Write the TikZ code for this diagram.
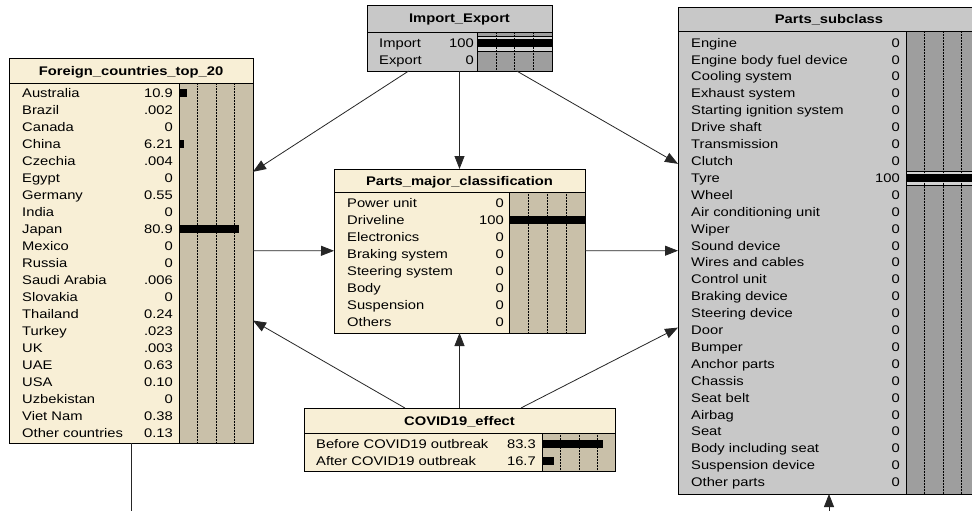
\documentclass[tikz,border=0pt]{standalone}
\usepackage{fontspec}
\setmainfont{Liberation Sans}[FakeStretch=1.18]
\usetikzlibrary{arrows.meta,calc}
\definecolor{cream}{HTML}{F8EFD6}
\definecolor{tanbar}{HTML}{C9C0A9}
\definecolor{lgray}{HTML}{C8C8C8}
\definecolor{dgray}{HTML}{9E9E9E}
\definecolor{hgray}{HTML}{D4D4D4}
\begin{document}
\begin{tikzpicture}[x=1pt,y=-1pt,
  box/.style={draw=black, line width=0.9pt, inner sep=0pt, outer sep=0pt, anchor=north west},
  edge/.style={line width=0.9pt, draw=black},
  lab/.style={anchor=base west, inner sep=0pt, font=\fontsize{12.5}{14}\selectfont},
  val/.style={anchor=base east, inner sep=0pt, font=\fontsize{12.5}{14}\selectfont},
  ttl/.style={anchor=base, inner sep=0pt, font=\fontsize{12.5}{14}\selectfont\bfseries},
  gridline/.style={densely dotted, line width=0.5pt},
  link/.style={draw=black!85, line width=0.8pt},
  arr/.style={link, -{Triangle[length=13pt,width=10pt]}}
]
\useasboundingbox (0,0) rectangle (972,511);
\clip (0,0) rectangle (972,511);
\fill[white] (0,0) rectangle (972,511);

%---------------- Foreign_countries_top_20
\node[box, fill=cream, minimum width=244pt, minimum height=385pt] (foreign) at (9,58) {};
\draw[edge, fill=tanbar] (179,83) rectangle (253,443);
\foreach \x in {197.5,216,234.5} \draw[gridline] (\x,83) -- (\x,443);
\draw[edge] (9,83) -- (253,83);
\node[ttl] (foreignT) at (131,75) {Foreign\_countries\_top\_20};
\foreach \lab/\val [count=\i from 0] in {Australia/10.9, Brazil/.002, Canada/0, China/6.21, Czechia/.004, Egypt/0, Germany/0.55, India/0, Japan/80.9, Mexico/0, Russia/0, Saudi Arabia/.006, Slovakia/0, Thailand/0.24, Turkey/.023, UK/.003, UAE/0.63, USA/0.10, Uzbekistan/0, Viet Nam/0.38, Other countries/0.13}{
  \node[lab] (fl\i) at (22,97.5+17*\i) {\lab};
  \node[val] (fv\i) at (173,97.5+17*\i) {\val};
}
\fill (179,89) rectangle (187.1,97);
\fill (179,140) rectangle (183.6,148);
\fill (179,225) rectangle (238.9,233);
\draw[edge] (foreign.north west) rectangle (foreign.south east);

%---------------- Import_Export
\node[box, fill=lgray, minimum width=185pt, minimum height=66pt] (imp) at (367,5) {};
\draw[edge, fill=dgray] (477,32) rectangle (552,71);
\draw[line width=0.5pt, fill=hgray] (477,36) rectangle (552,51);
\foreach \x in {496,514.5,533} \draw[gridline] (\x,32) -- (\x,71);
\fill (477,39.5) rectangle (552,47.5);
\draw[edge] (367,32) -- (552,32);
\node[ttl] (impT) at (459.5,23) {Import\_Export};
\node[lab] (il0) at (379,48) {Import};
\node[val] (iv0) at (474,48) {100};
\node[lab] (il1) at (379,65) {Export};
\node[val] (iv1) at (474,65) {0};
\draw[edge] (imp.north west) rectangle (imp.south east);

%---------------- Parts_major_classification
\node[box, fill=cream, minimum width=251pt, minimum height=164pt] (major) at (334,169) {};
\draw[edge, fill=tanbar] (509,192) rectangle (585,333);
\foreach \x in {528,547,566} \draw[gridline] (\x,192) -- (\x,333);
\draw[edge] (334,192) -- (585,192);
\node[ttl] (majorT) at (459.5,185) {Parts\_major\_classification};
\foreach \lab/\val [count=\i from 0] in {Power unit/0, Driveline/100, Electronics/0, Braking system/0, Steering system/0, Body/0, Suspension/0, Others/0}{
  \node[lab] (ml\i) at (347,207.5+17*\i) {\lab};
  \node[val] (mv\i) at (504,207.5+17*\i) {\val};
}
\fill (509,216) rectangle (585,224);
\draw[edge] (major.north west) rectangle (major.south east);

%---------------- COVID19_effect
\node[box, fill=cream, minimum width=311pt, minimum height=63pt] (covid) at (304,408) {};
\draw[edge, fill=tanbar] (542,433) rectangle (615,471);
\foreach \x in {560,579,597.5} \draw[gridline] (\x,433) -- (\x,471);
\draw[edge] (304,433) -- (615,433);
\node[ttl] (covidT) at (459.5,425) {COVID19\_effect};
\node[lab] (cl0) at (316,448) {Before COVID19 outbreak};
\node[val] (cv0) at (536,448) {83.3};
\node[lab] (cl1) at (316,465) {After COVID19 outbreak};
\node[val] (cv1) at (536,465) {16.7};
\fill (542,439.5) rectangle (603,447.5);
\fill (542,456.5) rectangle (554.2,464.5);
\draw[edge] (covid.north west) rectangle (covid.south east);

%---------------- Parts_subclass
\node[box, fill=lgray, minimum width=302pt, minimum height=487pt] (sub) at (678,7) {};
\draw[edge, fill=dgray] (906,31) rectangle (980,494);
\draw[line width=0.5pt, fill=hgray] (906,171) rectangle (980,185);
\foreach \x in {924.5,943,961.5} \draw[gridline] (\x,31) -- (\x,494);
\fill (906,174) rectangle (980,182);
\draw[edge] (678,31) -- (980,31);
\node[ttl] (subT) at (829,23.5) {Parts\_subclass};
\foreach \lab/\val [count=\i from 0] in {Engine/0, Engine body fuel device/0, Cooling system/0, Exhaust system/0, Starting ignition system/0, Drive shaft/0, Transmission/0, Clutch/0, Tyre/100, Wheel/0, Air conditioning unit/0, Wiper/0, Sound device/0, Wires and cables/0, Control unit/0, Braking device/0, Steering device/0, Door/0, Bumper/0, Anchor parts/0, Chassis/0, Seat belt/0, Airbag/0, Seat/0, Body including seat/0, Suspension device/0, Other parts/0}{
  \node[lab] (sl\i) at (691,47.2+16.9*\i) {\lab};
  \node[val] (sv\i) at (900,47.2+16.9*\i) {\val};
}
\draw[edge] (sub.north west) rectangle (sub.south east);

%---------------- connectors
\coordinate (belowF) at (131,620);
\coordinate (belowS) at (829,620);
\draw[arr] (imp) -- (foreign);
\draw[arr] (imp) -- (major);
\draw[arr] (imp) -- (sub);
\draw[arr] (foreign) -- (major);
\draw[arr] (major) -- (sub);
\draw[arr] (covid) -- (foreign);
\draw[arr] (covid) -- (major);
\draw[arr] (covid) -- (sub);
\draw[link] (foreign) -- (belowF);
\draw[arr] (belowS) -- (sub);
\end{tikzpicture}
\end{document}
